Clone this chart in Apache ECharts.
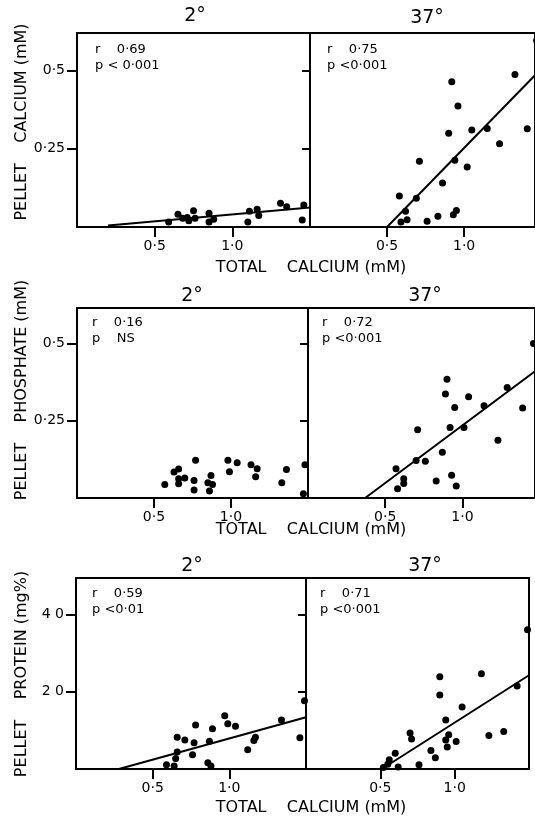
<!DOCTYPE html>
<html>
<head>
<meta charset="utf-8">
<script src="https://cdn.jsdelivr.net/npm/echarts@6/dist/echarts.min.js"></script>
<style>
  html, body { margin: 0; padding: 0; background: #fff; }
  #chart { width: 535px; height: 820px; }
</style>
</head>
<body>
<div id="chart"></div>
<script>
// tick labels
const xTickVals = [0.5, 1.0];
const xTickLabels = ['0·5', '1·0'];
const mmTickVals = [0.25, 0.5];
const mmTickLabels = ['0·25', '0·5'];
const protTickVals = [20, 40];
const protTickLabels = ['2 0', '4 0'];

// pellet calcium, 2°
const caColdX = [0.59, 0.65, 0.68, 0.71, 0.75, 0.72, 0.76, 0.85, 0.88, 0.85, 1.10, 1.11, 1.16, 1.17, 1.31, 1.35, 1.46, 1.45];
const caColdY = [0.016, 0.041, 0.028, 0.030, 0.052, 0.020, 0.028, 0.044, 0.025, 0.016, 0.016, 0.050, 0.057, 0.037, 0.076, 0.065, 0.070, 0.022];
const caColdFitX = [0.2, 1.5];
const caColdFitY = [0.005, 0.062];

// pellet calcium, 37°
const caWarmX = [1.47, 1.33, 0.92, 0.96, 1.05, 1.15, 1.41, 0.90, 1.23, 0.71, 0.94, 1.02, 0.86, 0.58, 0.69, 0.62, 0.63, 0.59, 0.76, 0.83, 0.93, 0.95];
const caWarmY = [0.596, 0.487, 0.464, 0.387, 0.310, 0.315, 0.314, 0.300, 0.266, 0.210, 0.213, 0.192, 0.141, 0.099, 0.092, 0.050, 0.023, 0.016, 0.018, 0.034, 0.039, 0.053];
const caWarmFitX = [0.5, 1.47];
const caWarmFitY = [0.0, 0.49];

// pellet phosphate, 2°
const poColdX = [0.57, 0.63, 0.66, 0.66, 0.66, 0.70, 0.76, 0.77, 0.76, 0.85, 0.88, 0.87, 0.86, 0.98, 0.99, 1.04, 1.13, 1.17, 1.16, 1.33, 1.36, 1.48, 1.47];
const poColdY = [0.044, 0.084, 0.094, 0.062, 0.046, 0.065, 0.057, 0.122, 0.026, 0.049, 0.044, 0.073, 0.023, 0.122, 0.085, 0.114, 0.108, 0.095, 0.069, 0.049, 0.092, 0.108, 0.014];

// pellet phosphate, 37°
const poWarmX = [1.46, 0.90, 0.89, 1.04, 0.95, 1.14, 1.29, 1.39, 0.71, 0.92, 1.01, 1.23, 0.87, 0.70, 0.76, 0.57, 0.62, 0.62, 0.58, 0.83, 0.93, 0.96];
const poWarmY = [0.500, 0.384, 0.337, 0.328, 0.293, 0.299, 0.358, 0.291, 0.221, 0.228, 0.228, 0.187, 0.148, 0.121, 0.119, 0.095, 0.062, 0.047, 0.030, 0.055, 0.074, 0.039];
const poWarmFitX = [0.37, 1.47];
const poWarmFitY = [0.0, 0.41];

// pellet protein, 2°
const prColdX = [1.49, 1.34, 0.97, 0.99, 1.04, 0.89, 0.78, 0.66, 0.71, 0.77, 0.87, 0.76, 0.66, 0.65, 0.59, 0.64, 0.86, 0.88, 1.12, 1.17, 1.16, 1.46];
const prColdY = [17.7, 12.7, 13.8, 11.7, 11.1, 10.4, 11.4, 8.2, 7.5, 6.8, 7.2, 3.7, 4.4, 2.7, 1.1, 0.8, 1.6, 0.8, 5.0, 8.2, 7.4, 8.1];
const prColdFitX = [0.28, 1.5];
const prColdFitY = [0.0, 13.4];

// pellet protein, 37°
const prWarmX = [1.49, 1.18, 0.90, 0.90, 1.42, 1.05, 0.94, 0.70, 0.71, 0.96, 0.94, 1.01, 0.95, 1.23, 1.33, 0.84, 0.87, 0.60, 0.56, 0.55, 0.62, 0.76, 0.52];
const prWarmY = [36.1, 24.7, 23.9, 19.2, 21.5, 16.1, 12.7, 9.3, 7.8, 8.9, 7.5, 7.1, 5.7, 8.7, 9.7, 4.8, 2.9, 4.1, 2.4, 1.2, 0.5, 1.1, 0.4];
const prWarmFitX = [0.51, 1.5];
const prWarmFitY = [0.0, 24.3];

const pairs = (xs, ys) => xs.map((x, i) => [x, ys[i]]);

const ink = '#000';
const font = 'DejaVu Sans';

const grids = [
  { left: 77, top: 33, width: 233, height: 194 },
  { left: 310, top: 33, width: 225, height: 194 },
  { left: 77, top: 308, width: 231, height: 190 },
  { left: 308, top: 308, width: 227, height: 190 },
  { left: 76, top: 578, width: 230, height: 191 },
  { left: 306, top: 578, width: 223, height: 191 }
];
const xMax = [1.5, 1.46, 1.5, 1.47, 1.5, 1.5];
const yMax = [0.62, 0.62, 0.615, 0.615, 49.5, 49.5];

const chart = echarts.init(document.getElementById('chart'));

const xAxes = grids.map((g, i) => ({
  gridIndex: i, type: 'value', min: 0, max: xMax[i],
  splitLine: { show: false },
  axisLine: { show: false },
  axisTick: { show: true, length: 10, lineStyle: { color: ink, width: 2 }, customValues: xTickVals },
  axisLabel: {
    customValues: xTickVals, margin: 12, fontSize: 14, color: ink, fontFamily: font,
    formatter: v => xTickLabels[xTickVals.indexOf(v)]
  }
}));

const yAxes = grids.map((g, i) => {
  const prot = i >= 4;
  const vals = prot ? protTickVals : mmTickVals;
  const labs = prot ? protTickLabels : mmTickLabels;
  const isLeft = i % 2 === 0;
  return {
    gridIndex: i, type: 'value', min: 0, max: yMax[i],
    splitLine: { show: false },
    axisLine: { show: false },
    axisTick: { show: true, length: isLeft ? 10 : 8, lineStyle: { color: ink, width: 2 }, customValues: vals },
    axisLabel: {
      show: isLeft, customValues: vals, margin: 12, fontSize: 14, color: ink, fontFamily: font,
      formatter: v => labs[vals.indexOf(v)]
    }
  };
});

const scatterSets = [
  pairs(caColdX, caColdY), pairs(caWarmX, caWarmY),
  pairs(poColdX, poColdY), pairs(poWarmX, poWarmY),
  pairs(prColdX, prColdY), pairs(prWarmX, prWarmY)
];
const fitSets = [
  pairs(caColdFitX, caColdFitY), pairs(caWarmFitX, caWarmFitY),
  null, pairs(poWarmFitX, poWarmFitY),
  pairs(prColdFitX, prColdFitY), pairs(prWarmFitX, prWarmFitY)
];

const series = [];
scatterSets.forEach((d, i) => {
  series.push({
    type: 'scatter', xAxisIndex: i, yAxisIndex: i, data: d,
    symbolSize: 7, clip: false, itemStyle: { color: ink, opacity: 1 }, silent: true
  });
});
fitSets.forEach((d, i) => {
  if (!d) return;
  series.push({
    type: 'line', xAxisIndex: i, yAxisIndex: i, data: d,
    showSymbol: false, lineStyle: { color: ink, width: 2 }, silent: true
  });
});

const txt = (x, y, s, size, extra) => Object.assign({
  type: 'text', x, y,
  style: { text: s, fontSize: size, fontFamily: font, fill: ink, textVerticalAlign: 'middle' }
}, extra || {});

const stats = [
  ['r    0·69', 'p < 0·001', 95, 50],
  ['r    0·75', 'p <0·001', 327, 50],
  ['r    0·16', 'p    NS', 92, 323],
  ['r    0·72', 'p <0·001', 322, 323],
  ['r    0·59', 'p <0·01', 92, 594],
  ['r    0·71', 'p <0·001', 320, 594]
];

const graphic = [];
stats.forEach(s => {
  graphic.push(txt(s[2], s[3], s[0], 13));
  graphic.push(txt(s[2], s[3] + 16, s[1], 13));
});

const titles = [['2°', 195, 16], ['37°', 427, 18], ['2°', 192, 296], ['37°', 425, 296], ['2°', 192, 566], ['37°', 425, 566]];
titles.forEach(t => {
  const g = txt(t[1], t[2], t[0], 19);
  g.style.textAlign = 'center';
  graphic.push(g);
});

const xNames = [268, 530, 808];
xNames.forEach(y => {
  const g = txt(311, y, 'TOTAL    CALCIUM (mM)', 16);
  g.style.textAlign = 'center';
  graphic.push(g);
});

const yNames = [['PELLET    CALCIUM (mM)', 122], ['PELLET    PHOSPHATE (mM)', 390], ['PELLET    PROTEIN (mg%)', 674]];
yNames.forEach(n => {
  const g = txt(22, n[1], n[0], 16, { rotation: Math.PI / 2 });
  g.style.textAlign = 'center';
  graphic.push(g);
});

chart.setOption({
  animation: false,
  backgroundColor: '#fff',
  grid: grids.map(g => Object.assign({
    show: true, borderColor: ink, borderWidth: 2, backgroundColor: 'transparent',
    outerBoundsMode: 'none', containLabel: false
  }, g)),
  xAxis: xAxes,
  yAxis: yAxes,
  series: series,
  graphic: graphic
});
</script>
</body>
</html>
